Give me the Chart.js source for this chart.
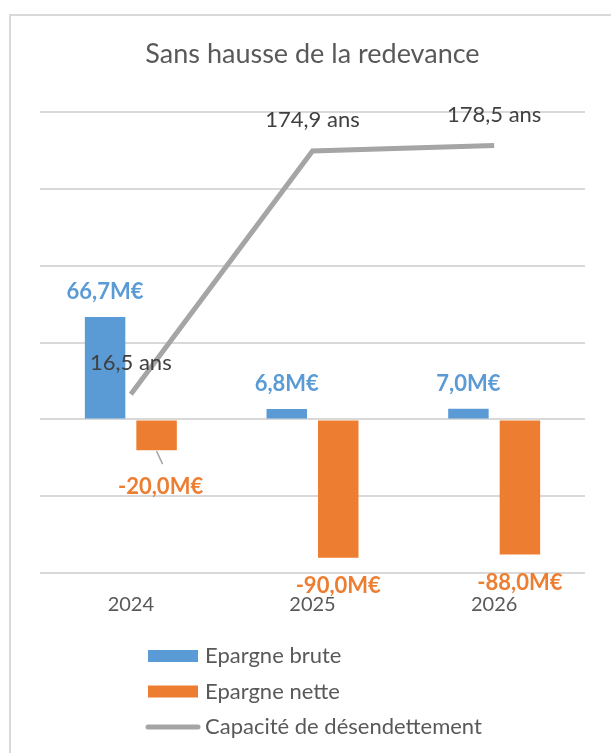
<!DOCTYPE html>
<html lang="fr">
<head>
<meta charset="utf-8">
<title>Sans hausse de la redevance</title>
<script src="https://cdn.jsdelivr.net/npm/chart.js@4.4.1/dist/chart.umd.min.js"></script>
<style>
  html, body { margin: 0; padding: 0; background: #fff; overflow: hidden; }
  #frame { position: absolute; left: 9px; top: 14px; width: 700px; height: 800px;
           border-left: 2px solid #d9d9d9; border-top: 2px solid #d9d9d9; }
  #wrap { position: absolute; left: 0; top: 0; width: 611px; height: 753px; }
</style>
</head>
<body>
<div id="frame"></div>
<div id="wrap"><canvas id="chart"></canvas></div>
<script>
const years = ['2024', '2025', '2026'];
const epargneBrute = [66.7, 6.8, 7.0];
const epargneNette = [-20.0, -90.0, -88.0];
const capacite = [16.5, 174.9, 178.5];
const gridValues = [-100, -50, 0, 50, 100, 150, 200];

const BLUE = '#5B9BD5';
const ORANGE = '#ED7D31';
const GREY = '#A5A5A5';
const TEXT = '#595959';
const FONT = 'Lato, "Open Sans", sans-serif';

const frNum = v => v.toFixed(1).replace('.', ',');

// value labels above/below bars and line points
const valueLabels = {
  id: 'valueLabels',
  afterDatasetsDraw(chart, args, opts) {
    const ctx = chart.ctx;
    ctx.save();
    ctx.textAlign = 'center';
    ctx.textBaseline = 'middle';
    chart.data.datasets.forEach((ds, di) => {
      const meta = chart.getDatasetMeta(di);
      meta.data.forEach((el, i) => {
        const v = ds.data[i];
        let x = el.x;
        let y;
        if (meta.type === 'bar') {
          y = v >= 0 ? el.y - opts.barOffset : el.y + opts.negOffset;
        } else {
          y = el.y - opts.lineOffset;
        }
        const nudge = opts.nudges.find(n => n.dataset === di && n.index === i);
        if (nudge) {
          // leader line from the bar end to the moved label
          ctx.strokeStyle = GREY;
          ctx.lineWidth = 1.5;
          ctx.beginPath();
          ctx.moveTo(el.x, el.y + 1);
          ctx.lineTo(el.x + 6, el.y + 14);
          ctx.stroke();
          x += nudge.dx;
          y += nudge.dy;
        }
        ctx.font = ds.labelFont;
        ctx.fillStyle = ds.labelColor;
        ctx.fillText(ds.labelFormat(v), x, y);
      });
    });
    ctx.restore();
  }
};

// vertical legend under the plot
const stackedLegend = {
  id: 'stackedLegend',
  afterDraw(chart, args, opts) {
    const ctx = chart.ctx;
    ctx.save();
    ctx.font = opts.font;
    ctx.textBaseline = 'middle';
    ctx.textAlign = 'left';
    chart.data.datasets.forEach((ds, i) => {
      const y = opts.top + i * opts.rowHeight;
      if (ds.type === 'line') {
        ctx.strokeStyle = ds.borderColor;
        ctx.lineWidth = 5;
        ctx.lineCap = 'round';
        ctx.beginPath();
        ctx.moveTo(opts.left, y);
        ctx.lineTo(opts.left + opts.boxWidth, y);
        ctx.stroke();
      } else {
        ctx.fillStyle = ds.backgroundColor;
        ctx.fillRect(opts.left, y - 6, opts.boxWidth, 12);
      }
      ctx.fillStyle = TEXT;
      ctx.fillText(ds.label, opts.left + opts.boxWidth + 7, y);
    });
    ctx.restore();
  }
};

new Chart(document.getElementById('chart'), {
  type: 'bar',
  data: {
    labels: years,
    datasets: [
      {
        label: 'Epargne brute',
        data: epargneBrute,
        backgroundColor: BLUE,
        labelColor: BLUE,
        labelFont: 'bold 22px ' + FONT,
        labelFormat: v => frNum(v) + 'M€',
        order: 2
      },
      {
        label: 'Epargne nette',
        data: epargneNette,
        backgroundColor: ORANGE,
        labelColor: ORANGE,
        labelFont: 'bold 22px ' + FONT,
        labelFormat: v => frNum(v) + 'M€',
        order: 2
      },
      {
        type: 'line',
        label: 'Capacité de désendettement',
        data: capacite,
        borderColor: GREY,
        borderWidth: 5,
        pointRadius: 0,
        tension: 0,
        labelColor: '#404040',
        labelFont: '22px ' + FONT,
        labelFormat: v => frNum(v) + ' ans',
        order: 1
      }
    ]
  },
  options: {
    responsive: true,
    maintainAspectRatio: false,
    animation: false,
    categoryPercentage: 0.567,
    barPercentage: 0.786,
    layout: { padding: { top: 36, left: 40, right: 26, bottom: 116 } },
    plugins: {
      legend: { display: false },
      tooltip: { enabled: false },
      title: {
        display: true,
        text: 'Sans hausse de la redevance',
        color: TEXT,
        font: { family: FONT, size: 27, weight: 'normal' },
        padding: { top: 2, bottom: 42 }
      },
      valueLabels: {
        barOffset: 25,
        negOffset: 28,
        lineOffset: 31,
        nudges: [{ dataset: 1, index: 0, dx: 4, dy: 9 }]
      },
      stackedLegend: {
        left: 148, top: 656, rowHeight: 35.5, boxWidth: 50,
        font: '22px ' + FONT
      }
    },
    scales: {
      x: {
        grid: { display: false, drawTicks: false },
        border: { display: false },
        ticks: { color: TEXT, font: { family: FONT, size: 20 }, padding: 20 }
      },
      y: {
        min: -100,
        max: 200,
        afterBuildTicks: axis => { axis.ticks = gridValues.map(v => ({ value: v })); },
        ticks: { display: false },
        grid: { color: '#D9D9D9', lineWidth: 2, drawTicks: false },
        border: { display: false }
      }
    }
  },
  plugins: [valueLabels, stackedLegend]
});
</script>
</body>
</html>
